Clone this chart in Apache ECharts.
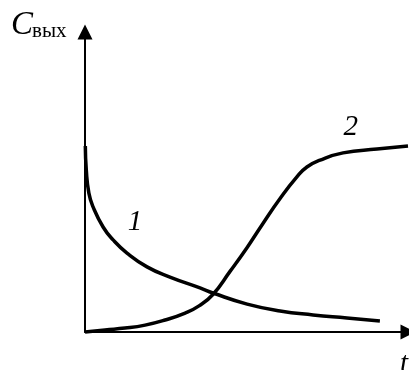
<!DOCTYPE html>
<html>
<head>
<meta charset="utf-8">
<script src="https://cdn.jsdelivr.net/npm/echarts@6/dist/echarts.min.js"></script>
<style>
  html, body { margin: 0; padding: 0; background: #fff; }
  #chart { width: 409px; height: 370px; }
</style>
</head>
<body>
<div id="chart"></div>
<script>
// Curve 1: outlet concentration falling with time
const curve1T = [0.01, 0.04, 0.12, 0.25, 0.56, 0.87, 1.30, 1.92, 2.63, 3.56, 3.96, 5.02, 6.04, 7.06, 8.11, 9.13];
const curve1C = [6.20, 5.40, 4.63, 4.17, 3.50, 3.07, 2.63, 2.17, 1.83, 1.47, 1.30, 0.93, 0.70, 0.57, 0.47, 0.37];

// Curve 2: outlet concentration rising (S-shaped) with time
const curve2T = [0.00, 0.62, 1.24, 1.86, 2.48, 3.10, 3.53, 3.96, 4.49, 5.02, 5.51, 6.04, 6.56, 6.87, 7.28, 7.99, 9.04, 10.0];
const curve2C = [0.00, 0.07, 0.13, 0.23, 0.40, 0.63, 0.87, 1.25, 2.02, 2.82, 3.62, 4.45, 5.17, 5.50, 5.73, 5.97, 6.10, 6.20];

// Curve labels and where they sit (t, C)
const curveNames = ['1', '2'];
const curveNameAt = [[1.55, 3.67], [8.23, 6.83]];

// Axis titles
const yTitleMain = 'C';
const yTitleSub = 'вых';
const xTitle = 't';

const pairs = (xs, ys) => xs.map((x, i) => [x, ys[i]]);
const serif = '"Liberation Serif", "Times New Roman", serif';

const chart = echarts.init(document.getElementById('chart'));

const axisCommon = {
  type: 'value',
  min: 0,
  max: 10,
  splitLine: { show: false },
  axisTick: { show: false },
  axisLabel: { show: false },
  axisLine: {
    show: true,
    onZero: false,
    symbol: ['none', 'triangle'],
    symbolSize: [15, 15],
    lineStyle: { color: '#000', width: 2 }
  }
};

const lineStyle = { color: '#000', width: 3.5 };

chart.setOption({
  animation: false,
  backgroundColor: '#fff',
  grid: { left: 85, right: 1, top: 32, bottom: 38 },
  xAxis: Object.assign({}, axisCommon),
  yAxis: Object.assign({}, axisCommon),
  series: [
    {
      type: 'line',
      data: pairs(curve1T, curve1C),
      smooth: 0.5,
      showSymbol: false,
      clip: false,
      lineStyle: lineStyle
    },
    {
      type: 'line',
      data: pairs(curve2T, curve2C),
      smooth: 0.5,
      showSymbol: false,
      clip: false,
      lineStyle: lineStyle
    }
  ]
});

// Place curve numbers and axis titles relative to the axes
const origin = chart.convertToPixel({ gridIndex: 0 }, [0, 0]);
const yEnd = chart.convertToPixel({ gridIndex: 0 }, [0, 10]);
const xEnd = chart.convertToPixel({ gridIndex: 0 }, [10, 0]);

const graphics = curveNames.map((name, i) => {
  const p = chart.convertToPixel({ gridIndex: 0 }, curveNameAt[i]);
  return {
    type: 'text',
    x: p[0],
    y: p[1],
    style: {
      text: name,
      font: 'italic 29px ' + serif,
      fill: '#000',
      align: 'center',
      verticalAlign: 'middle'
    }
  };
});

graphics.push({
  type: 'text',
  x: origin[0] - 74,
  y: yEnd[1] - 7,
  style: {
    text: yTitleMain,
    font: 'italic 33px ' + serif,
    fill: '#000',
    align: 'left',
    verticalAlign: 'middle'
  }
});
graphics.push({
  type: 'text',
  x: origin[0] - 53,
  y: yEnd[1] - 1,
  style: {
    text: yTitleSub,
    font: '21px ' + serif,
    fill: '#000',
    align: 'left',
    verticalAlign: 'middle'
  }
});
graphics.push({
  type: 'text',
  x: xEnd[0] - 8,
  y: origin[1] + 32,
  style: {
    text: xTitle,
    font: 'italic 29px ' + serif,
    fill: '#000',
    align: 'left',
    verticalAlign: 'middle'
  }
});

chart.setOption({ graphic: graphics });
</script>
</body>
</html>
